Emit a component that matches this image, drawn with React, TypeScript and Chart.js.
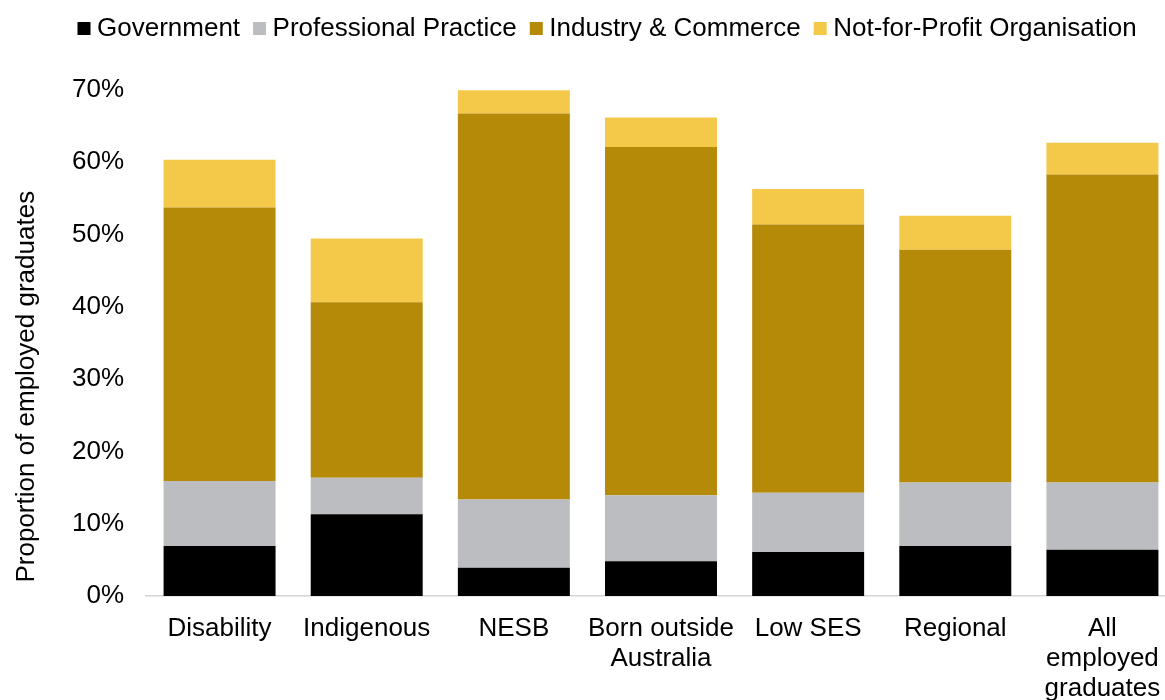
import React, { useEffect, useRef } from "react";
import { Chart, registerables } from "chart.js";

Chart.register(...registerables);

const FONT = '"Liberation Sans", Arial, sans-serif';

const categories: (string | string[])[] = [
  "Disability",
  "Indigenous",
  "NESB",
  ["Born outside", "Australia"],
  "Low SES",
  "Regional",
  ["All", "employed", "graduates"],
];

const government = [6.9, 11.3, 3.9, 4.8, 6.1, 6.9, 6.4];
const professionalPractice = [9.0, 5.05, 9.45, 9.15, 8.2, 8.8, 9.3];
const industryCommerce = [37.85, 24.3, 53.4, 48.15, 37.1, 32.2, 42.6];
const notForProfit = [6.6, 8.8, 3.2, 4.1, 4.9, 4.7, 4.4];

const seriesLabels = [
  "Government",
  "Professional Practice",
  "Industry & Commerce",
  "Not-for-Profit Organisation",
];
const seriesColors = ["#000000", "#BCBDC0", "#B68A09", "#F4C94A"];

const yTicks = [0, 10, 20, 30, 40, 50, 60, 70];
const yTitle = "Proportion of employed graduates";

const customLegendAndTitle = {
  id: "customLegendAndTitle",
  afterDraw(chart: any) {
    const ctx = chart.ctx as CanvasRenderingContext2D;
    ctx.save();
    ctx.font = `26px ${FONT}`;
    ctx.textBaseline = "alphabetic";
    ctx.textAlign = "left";
    let x = 77.5;
    chart.data.datasets.forEach((ds: any) => {
      ctx.fillStyle = ds.backgroundColor;
      ctx.fillRect(x, 22, 13, 13);
      x += 13 + 6.5;
      ctx.fillStyle = "#000";
      ctx.fillText(ds.label, x, 36);
      x += ctx.measureText(ds.label).width + 13;
    });
    ctx.translate(33.5, 386.7);
    ctx.rotate(-Math.PI / 2);
    ctx.textAlign = "center";
    ctx.fillStyle = "#000";
    ctx.fillText(yTitle, 0, 0);
    ctx.restore();
  },
};

export default function App() {
  const canvasRef = useRef<HTMLCanvasElement | null>(null);

  useEffect(() => {
    if (!canvasRef.current) return;
    const seriesData = [government, professionalPractice, industryCommerce, notForProfit];
    const chart = new Chart(canvasRef.current, {
      type: "bar",
      data: {
        labels: categories,
        datasets: seriesData.map((d, i) => ({
          label: seriesLabels[i],
          data: d,
          backgroundColor: seriesColors[i],
          borderWidth: 0,
          categoryPercentage: 0.761,
          barPercentage: 1,
        })),
      },
      plugins: [customLegendAndTitle],
      options: {
        responsive: false,
        animation: false,
        layout: { padding: { top: 90, right: 4, left: 0, bottom: 0 } },
        plugins: {
          legend: { display: false },
          tooltip: { enabled: false },
          title: { display: false },
        },
        scales: {
          x: {
            stacked: true,
            grid: { display: false, drawTicks: false },
            border: { display: true, color: "#D3D3D3", width: 1.5 },
            ticks: {
              color: "#000",
              padding: 18,
              maxRotation: 0,
              autoSkip: false,
              font: { family: FONT, size: 26, lineHeight: 30 / 26 },
            },
            afterFit: (scale: any) => {
              scale.height = 104;
            },
          },
          y: {
            stacked: true,
            min: 0,
            max: 70,
            grid: { display: false, drawTicks: false },
            border: { display: false },
            afterBuildTicks: (scale: any) => {
              scale.ticks = yTicks.map((v) => ({ value: v }));
            },
            ticks: {
              color: "#000",
              padding: 22,
              font: { family: FONT, size: 26 },
              callback: (v: any) => `${v}%`,
            },
            afterFit: (scale: any) => {
              scale.width = 146;
            },
          },
        },
      },
    });
    return () => chart.destroy();
  }, []);

  return (
    <div
      style={{
        position: "fixed",
        left: 0,
        top: 0,
        width: 1165,
        height: 700,
        overflow: "hidden",
        background: "#fff",
      }}
    >
      <canvas ref={canvasRef} width={1180} height={700} style={{ display: "block" }} />
    </div>
  );
}
